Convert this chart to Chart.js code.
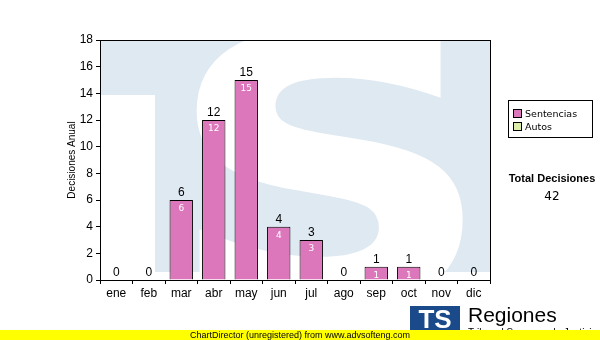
<!DOCTYPE html>
<html lang="es">
<head>
  <meta charset="UTF-8">
  <title>Decisiones Anual</title>
  <script src="https://cdn.jsdelivr.net/npm/chart.js"></script>
  <style>
    body { margin: 0; background: #fff; font-family: "Liberation Sans", Arial, sans-serif; }
    #wrap { position: relative; width: 600px; height: 340px; overflow: hidden; }
    #legend { position: absolute; left: 508px; top: 100px; width: 83px; height: 36px; border: 1px solid #000;
              font-family: "DejaVu Sans", sans-serif; font-size: 9.5px; }
    #legend div { position: absolute; left: 4px; }
    #legend span.sw { display: inline-block; width: 7px; height: 7px; border: 1px solid #000; margin-right: 3px; vertical-align: -1px; }
    #total { position: absolute; left: 505px; top: 172px; width: 94px; text-align: center; font-size: 11px; font-weight: bold; }
    #totalVal { position: absolute; left: 505px; top: 189px; width: 94px; text-align: center; font-size: 12px; font-family: "DejaVu Sans", sans-serif; }
    #logo { position: absolute; left: 410px; top: 306px; width: 50px; height: 26px; background: #1a4a8a; color: #fff;
            font: bold 26px/26px "Liberation Sans", Arial, sans-serif; text-align: center; }
    #reg { position: absolute; left: 468px; top: 303px; font-size: 21px; }
    #regSub { position: absolute; left: 468px; top: 327px; font-size: 10px; }
    #band { position: absolute; left: 0; top: 330px; width: 600px; height: 10px; background: #ffff00; font-size: 9px; line-height: 10px; }
    #band span { position: absolute; left: 190px; top: 0; }
  </style>
</head>
<body>
<div id="wrap">
  <canvas id="chart" width="600" height="340"></canvas>
  <div id="legend">
    <div style="top:7px"><span class="sw" style="background:#dd77bb"></span>Sentencias</div>
    <div style="top:20px"><span class="sw" style="background:#ddeeaa"></span>Autos</div>
  </div>
  <div id="total">Total Decisiones</div>
  <div id="totalVal">42</div>
  <div id="logo">TS</div>
  <div id="reg">Regiones</div>
  <div id="regSub">Tribunal Supremo de Justicia</div>
  <div id="band"><span>ChartDirector (unregistered) from www.advsofteng.com</span></div>
</div>
<script>
const months = ['ene', 'feb', 'mar', 'abr', 'may', 'jun', 'jul', 'ago', 'sep', 'oct', 'nov', 'dic'];
const sentencias = [0, 0, 6, 12, 15, 4, 3, 0, 1, 1, 0, 0];
const autos = [0, 0, 0, 0, 0, 0, 0, 0, 0, 0, 0, 0];
const yTicks = [0, 2, 4, 6, 8, 10, 12, 14, 16, 18];

// light blue "TS" watermark behind the bars
const watermark = {
  id: 'watermark',
  beforeDatasetsDraw(chart) {
    const a = chart.chartArea, c = chart.ctx;
    c.save();
    c.beginPath();
    c.rect(a.left, a.top, a.right - a.left, a.bottom - a.top);
    c.clip();
    c.fillStyle = '#dfe9f2';
    c.fillRect(a.left, a.top, a.right - a.left, 55);
    c.fillRect(a.left + 55, a.top, a.right - a.left - 55, 232);
    c.fillStyle = '#fff';
    c.fillRect(a.left, a.top + 55, 55, 200);
    c.translate(a.left + 230, a.top + 262);
    c.scale(1.25, 1);
    c.font = 'bold 370px "DejaVu Sans", sans-serif';
    c.textAlign = 'center';
    c.textBaseline = 'alphabetic';
    c.fillText('S', 0, 0);
    c.restore();
  }
};

const frame = {
  id: 'frame',
  afterDraw(chart) {
    const a = chart.chartArea, c = chart.ctx;
    c.save();
    c.strokeStyle = '#000';
    c.lineWidth = 1;
    c.strokeRect(Math.round(a.left) + 0.5, Math.round(a.top) + 0.5, Math.round(a.right - a.left), Math.round(a.bottom - a.top));
    c.restore();
  }
};

const valueLabels = {
  id: 'valueLabels',
  afterDatasetsDraw(chart) {
    const c = chart.ctx;
    const meta = chart.getDatasetMeta(0);
    c.save();
    c.textAlign = 'center';
    meta.data.forEach((bar, i) => {
      const v = sentencias[i];
      c.fillStyle = '#000';
      c.font = '12px "Liberation Sans", Arial, sans-serif';
      c.textBaseline = 'bottom';
      c.fillText(String(v), bar.x, bar.y - 1);
      if (v > 0) {
        c.fillStyle = '#fff';
        c.font = '9px "DejaVu Sans", sans-serif';
        c.textBaseline = 'top';
        c.fillText(String(v), bar.x, bar.y + 4);
      }
    });
    c.restore();
  }
};

new Chart(document.getElementById('chart'), {
  type: 'bar',
  data: {
    labels: months,
    datasets: [
      { label: 'Sentencias', data: sentencias, backgroundColor: '#dd77bb', borderColor: '#000', borderWidth: 1, barPercentage: 0.72, categoryPercentage: 1 },
      { label: 'Autos', data: autos, backgroundColor: '#ddeeaa', borderColor: '#000', borderWidth: 0, barPercentage: 0.72, categoryPercentage: 1 }
    ]
  },
  options: {
    responsive: false,
    animation: false,
    layout: { padding: { left: 66, top: 40, right: 110, bottom: 0 } },
    plugins: { legend: { display: false }, tooltip: { enabled: false } },
    scales: {
      x: {
        stacked: true,
        grid: { drawOnChartArea: false, color: '#000', tickLength: 4 },
        border: { color: '#000' },
        ticks: { color: '#000', font: { size: 12, family: '"Liberation Sans", Arial' }, padding: 2 },
        afterFit(s) { s.height = 60; }
      },
      y: {
        stacked: true,
        min: 0, max: 18,
        afterBuildTicks(s) { s.ticks = yTicks.map(v => ({ value: v })); },
        grid: { color: '#bbbbbb', tickColor: '#000', tickLength: 4 },
        border: { color: '#000' },
        ticks: { color: '#000', font: { size: 12, family: '"Liberation Sans", Arial' }, padding: 3 },
        title: { display: true, text: 'Decisiones Anual', color: '#000', font: { size: 10, family: '"Liberation Sans", Arial' }, padding: 0 },
        afterFit(s) { s.width = 34; }
      }
    }
  },
  plugins: [watermark, valueLabels, frame]
});
</script>
</body>
</html>
